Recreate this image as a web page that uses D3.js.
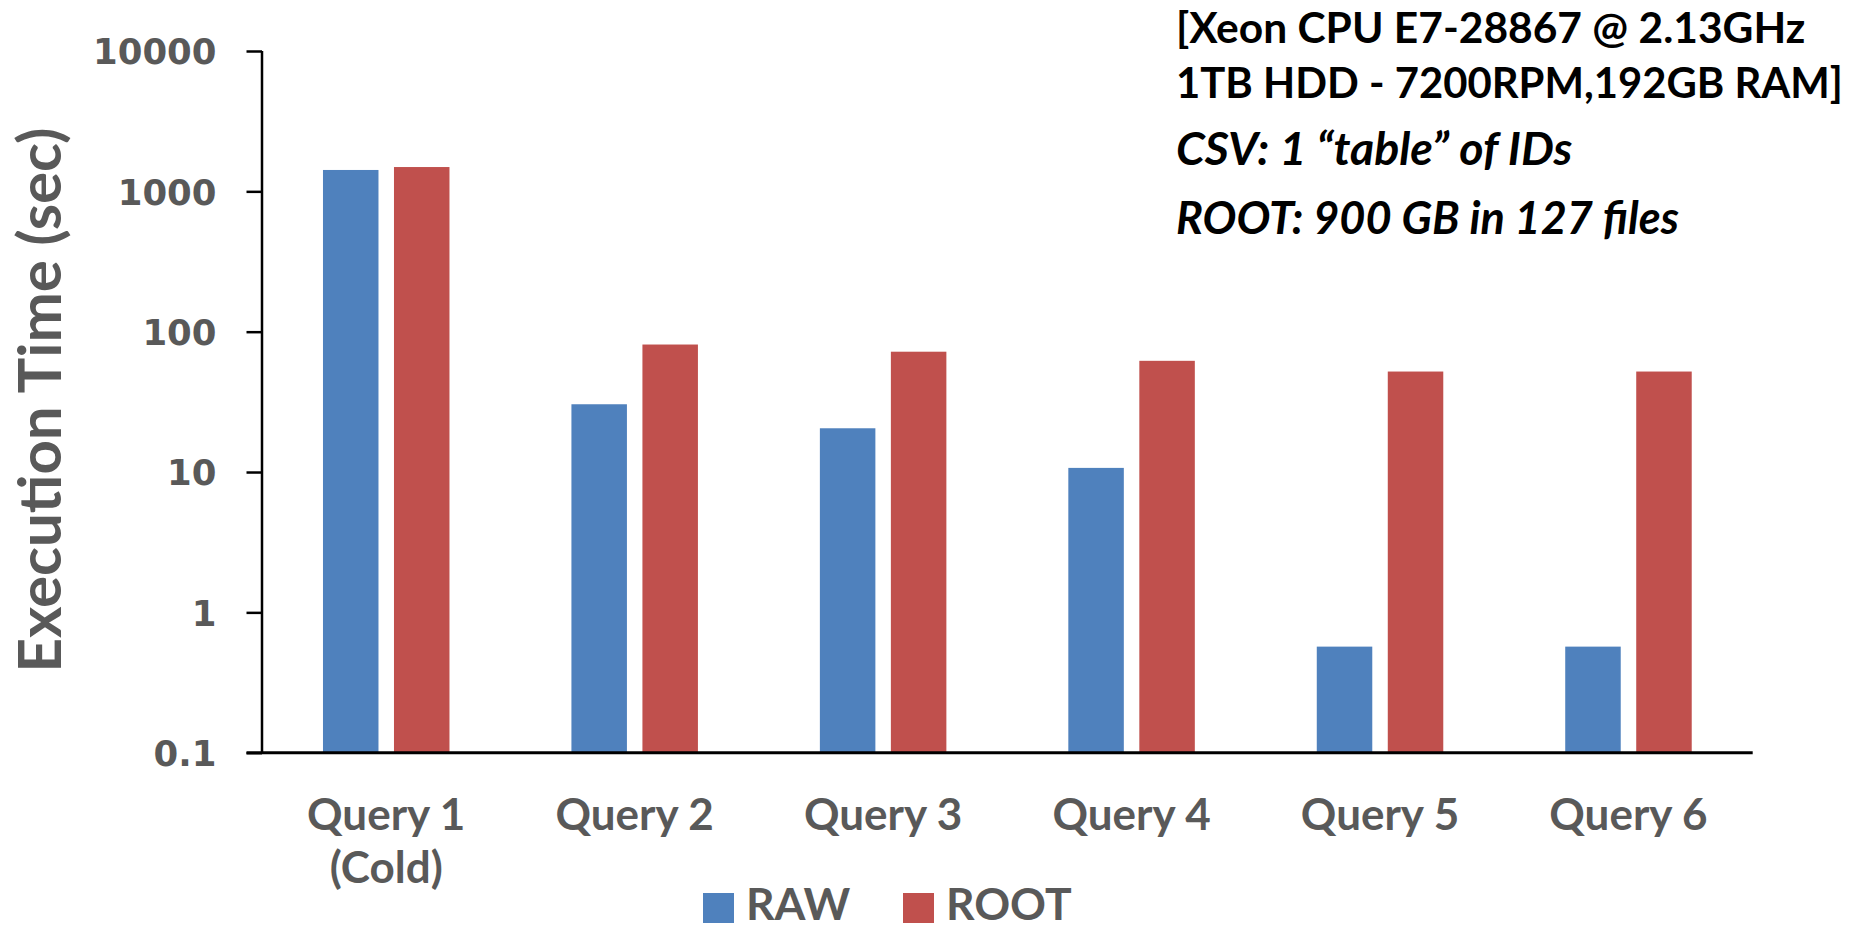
<!DOCTYPE html>
<html>
<head>
<meta charset="utf-8">
<script src="https://cdn.jsdelivr.net/npm/d3@7"></script>
<style>
  html, body { margin: 0; padding: 0; background: #fff; }
  svg { display: block; }
</style>
</head>
<body>
<svg id="chart" width="1850" height="931"></svg>
<script>
const categories = ["Query 1\n(Cold)", "Query 2", "Query 3", "Query 4", "Query 5", "Query 6"];
const seriesNames = ["RAW", "ROOT"];
const rawValues = [1420, 30.4, 20.5, 10.7, 0.57, 0.57];
const rootValues = [1490, 81, 72, 62, 52, 52];
const seriesColors = ["#4F81BD", "#C0504D"];
const yTicks = [0.1, 1, 10, 100, 1000, 10000];
const yTickLabels = ["0.1", "1", "10", "100", "1000", "10000"];
const yTitle = "Execution Time (sec)";
const noteLines = [
  { text: "[Xeon CPU E7-28867 @ 2.13GHz", italic: false },
  { text: "1TB HDD - 7200RPM,192GB RAM]", italic: false },
  { text: "CSV: 1 \u201Ctable\u201D of IDs", italic: true },
  { text: "ROOT: 900 GB in 127 files", italic: true }
];

const svg = d3.select("#chart");
const pLeft = 262, pRight = 1752.7, pTop = 51, pBottom = 752.7;

const x = d3.scaleBand().domain(categories).range([pLeft, pRight]).paddingInner(0).paddingOuter(0);
const y = d3.scaleLog().domain([0.1, 10000]).range([pBottom, pTop]);

const barW = 55.5, gap = 15.5;
const groupW = barW * 2 + gap;
const sub = d3.scaleOrdinal().domain(seriesNames).range([0, barW + gap]);

const data = categories.map((c, i) => ({ cat: c, vals: [
  { s: "RAW", v: rawValues[i] }, { s: "ROOT", v: rootValues[i] }] }));

const groups = svg.append("g").selectAll("g").data(data).join("g")
  .attr("transform", d => `translate(${x(d.cat) + (x.bandwidth() - groupW) / 2},0)`);
groups.selectAll("rect").data(d => d.vals).join("rect")
  .attr("x", d => sub(d.s))
  .attr("width", barW)
  .attr("y", d => y(d.v))
  .attr("height", d => pBottom - y(d.v))
  .attr("fill", (d, i) => seriesColors[i]);

// Y axis
const yAxis = d3.axisLeft(y).tickValues(yTicks)
  .tickFormat((d, i) => yTickLabels[i]).tickSize(15.5).tickPadding(30);
const yg = svg.append("g").attr("transform", `translate(${pLeft},0)`).call(yAxis);
yg.select(".domain").attr("stroke", "#000").attr("stroke-width", 2.5)
  .attr("d", `M0,${pTop}V${pBottom}`);
yg.selectAll(".tick line").attr("stroke", "#000").attr("stroke-width", 2.5);
yg.selectAll(".tick text")
  .attr("fill", "#595959")
  .style("font-family", "'DejaVu Sans', sans-serif")
  .style("font-weight", "bold")
  .style("font-size", "35.5px")
  .attr("dy", "0.36em");

// X axis line
const xAxis = d3.axisBottom(x).tickSize(0).tickFormat("");
const xg = svg.append("g").attr("transform", `translate(0,${pBottom})`).call(xAxis);
xg.select(".domain").attr("stroke", "#000").attr("stroke-width", 3)
  .attr("d", `M${pLeft - 15.5},0H${pRight}`);

// Category labels
categories.forEach(c => {
  const lines = c.split("\n");
  const t = svg.append("text")
    .attr("x", x(c) + x.bandwidth() / 2)
    .attr("y", 830)
    .attr("text-anchor", "middle")
    .attr("fill", "#595959")
    .style("font-family", "Lato, sans-serif")
    .style("font-weight", "bold")
    .style("font-size", "44px");
  lines.forEach((l, i) => {
    t.append("tspan").attr("x", x(c) + x.bandwidth() / 2).attr("dy", i === 0 ? 0 : 53).text(l);
  });
});

// Y title
svg.append("text")
  .attr("transform", "translate(61,400) rotate(-90)")
  .attr("text-anchor", "middle")
  .attr("fill", "#595959")
  .style("font-family", "Lato, sans-serif")
  .style("font-weight", "bold")
  .style("font-size", "60px")
  .text(yTitle);

// Legend
const legend = svg.append("g");
const legX = [703, 903];
seriesNames.forEach((s, i) => {
  legend.append("rect").attr("x", legX[i]).attr("y", 893).attr("width", 31).attr("height", 30)
    .attr("fill", seriesColors[i]);
  legend.append("text").attr("x", legX[i] + 43).attr("y", 920)
    .attr("fill", "#595959")
    .style("font-family", "Lato, sans-serif")
    .style("font-weight", "bold")
    .style("font-size", "44.5px")
    .text(s);
});

// Annotation
const noteY = [43, 98, 165, 234];
const noteSize = [42.5, 41.8, 46.5, 45];
noteLines.forEach((n, i) => {
  svg.append("text").attr("x", 1176).attr("y", noteY[i])
    .attr("fill", "#000")
    .style("font-family", "Lato, sans-serif")
    .style("font-weight", "bold")
    .style("font-style", n.italic ? "italic" : "normal")
    .style("font-size", noteSize[i] + "px")
    .text(n.text);
});
</script>
</body>
</html>
